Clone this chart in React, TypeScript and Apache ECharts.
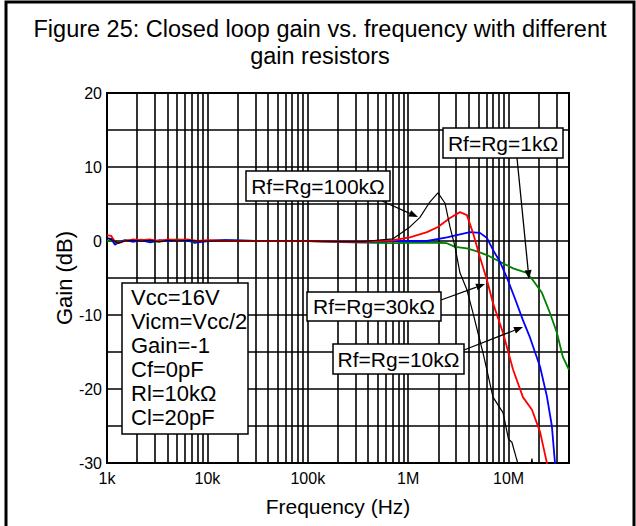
import React, { useEffect, useRef } from 'react';
import * as echarts from 'echarts';

const titleText = 'Figure 25: Closed loop gain vs. frequency with different\ngain resistors';
const xAxisName = 'Frequency (Hz)';
const yAxisName = 'Gain (dB)';

const xTickValues = [1e3, 1e4, 1e5, 1e6, 1e7];
const xTickLabels = ['1k', '10k', '100k', '1M', '10M'];
const gridMultipliers = [2, 3, 4, 5, 6, 7, 8, 9];
const gridDecades = [1e3, 1e4, 1e5, 1e6, 1e7];
const xMin = 1e3;
const xMax = 4e7;
const yMin = -30;
const yMax = 20;

// Rf=Rg=100kΩ (black)
const blackFreq = [1000, 1150, 1300, 1500, 1800, 2200, 2700, 3300, 4000, 5000, 6500, 8000, 10000, 15000, 30000, 100000, 331000, 706000, 1040000, 1310000, 1650000, 1980000, 2330000, 2610000, 2930000, 3280000, 3850000, 4420000, 5560000, 7000000, 8800000, 10000000, 10800000, 12100000, 13000000, 16000000, 17100000, 18000000];
const blackGain = [0.4, 0.1, -0.3, 0.0, 0.1, 0.0, 0.1, -0.1, 0.1, 0.0, 0.1, 0.0, 0.0, 0.0, 0.0, 0.0, -0.1, 0.3, 1.9, 3.2, 5.3, 6.5, 5.1, 1.9, -0.8, -4.3, -6.6, -9.7, -15.1, -21.1, -23.2, -26.8, -27.2, -29.6, -31, -32, -29.4, -32];

// Rf=Rg=30kΩ (red)
const redFreq = [1000, 1100, 1200, 1300, 1500, 1800, 2200, 2700, 3300, 4000, 5000, 6500, 8000, 10000, 15000, 30000, 100000, 331000, 706000, 1040000, 1540000, 1980000, 2610000, 3280000, 3850000, 4420000, 5190000, 6100000, 7000000, 8800000, 11100000, 13900000, 17100000, 20600000, 24100000, 25000000];
const redGain = [0.8, 0.7, -0.1, -0.3, 0.0, 0.2, 0.1, 0.2, 0.0, 0.2, 0.1, 0.2, 0.0, 0.1, 0.0, 0.0, 0.0, -0.1, 0.1, 0.5, 1.2, 1.9, 3.1, 3.9, 3.5, 1.1, -2.2, -5.3, -8.4, -12.4, -17.4, -21.1, -22.8, -25.8, -30, -31.5];

// Rf=Rg=10kΩ (blue)
const blueFreq = [1000, 1100, 1200, 1300, 1500, 1800, 2200, 2700, 3300, 4000, 5000, 6500, 8000, 10000, 15000, 30000, 100000, 331000, 706000, 1540000, 2430000, 3280000, 4130000, 5190000, 6100000, 7000000, 8200000, 9860000, 11600000, 13900000, 16300000, 20600000, 24100000, 27000000, 29000000, 30000000];
const blueGain = [0.4, 0.3, -0.5, -0.2, 0.1, -0.1, 0.1, -0.2, 0.1, 0.0, 0.1, 0.0, -0.2, 0.0, 0.1, 0.0, 0.0, -0.1, 0.0, 0.0, 0.5, 0.9, 1.2, 1.1, 0.4, -1.2, -2.8, -5.3, -7.8, -10.7, -13, -17, -21, -25, -30, -32];

// Rf=Rg=1kΩ (green)
const greenFreq = [1000, 1100, 1200, 1300, 1500, 1800, 2200, 2700, 3300, 4000, 5000, 6500, 7500, 8000, 10000, 15000, 30000, 100000, 331000, 706000, 1540000, 2430000, 2930000, 3850000, 4840000, 6100000, 8200000, 11100000, 15200000, 17500000, 21500000, 25800000, 30300000, 34800000, 40000000];
const greenGain = [0.0, 0.1, -0.2, -0.1, 0.1, 0.0, 0.2, 0.0, -0.1, 0.1, 0.2, 0.1, -0.3, -0.1, 0.0, 0.1, 0.0, 0.0, -0.2, -0.3, -0.2, -0.3, -0.8, -1.0, -1.4, -1.9, -2.8, -3.7, -4.3, -5.3, -7, -9.7, -12.4, -15.7, -17.4];

const conditionsText = ['Vcc=16V', 'Vicm=Vcc/2', 'Gain=-1', 'Cf=0pF', 'Rl=10kΩ', 'Cl=20pF'];
const labelTexts = ['Rf=Rg=100kΩ', 'Rf=Rg=1kΩ', 'Rf=Rg=30kΩ', 'Rf=Rg=10kΩ'];

const FONT = '"Liberation Sans", Arial, Helvetica, sans-serif';

function zip(xs: number[], ys: number[]) {
  return xs.map((x, i) => [x, ys[i]]);
}

function arrow(x1: number, y1: number, x2: number, y2: number) {
  const ang = Math.atan2(y2 - y1, x2 - x1);
  const L = 9;
  const W = 3.5;
  const bx = x2 - L * Math.cos(ang);
  const by = y2 - L * Math.sin(ang);
  const px = -Math.sin(ang) * W;
  const py = Math.cos(ang) * W;
  return [
    { type: 'line', shape: { x1, y1, x2: bx, y2: by }, style: { stroke: '#000', lineWidth: 1.3 }, z: 20 },
    { type: 'polygon', shape: { points: [[x2, y2], [bx + px, by + py], [bx - px, by - py]] }, style: { fill: '#000' }, z: 20 },
  ];
}

function labelBox(x: number, y: number, w: number, h: number, text: string) {
  return [
    { type: 'rect', shape: { x, y, width: w, height: h }, style: { fill: '#fff', stroke: '#000', lineWidth: 1.5 }, z: 21 },
    { type: 'text', x: x + w / 2, y: y + h / 2, style: { text, font: `21px ${FONT}`, fill: '#000', align: 'center', verticalAlign: 'middle' }, z: 22 },
  ];
}

const gridFreqs: number[] = [];
gridDecades.forEach((d) => {
  gridFreqs.push(d);
  gridMultipliers.forEach((m) => {
    if (d * m < xMax) gridFreqs.push(d * m);
  });
});

function xLabel(v: number) {
  for (let i = 0; i < xTickValues.length; i++) {
    if (Math.abs(v - xTickValues[i]) / xTickValues[i] < 1e-6) return xTickLabels[i];
  }
  return '';
}

const dataLine = (name: string, color: string, width: number, data: number[][]) => ({
  name,
  type: 'line',
  data,
  showSymbol: false,
  symbol: 'none',
  smooth: false,
  clip: true,
  z: 5,
  lineStyle: { color, width },
});

const option: any = {
  animation: false,
  backgroundColor: '#fff',
  grid: { left: 107, top: 93, width: 462, height: 370, show: true, borderColor: '#000', borderWidth: 2, backgroundColor: 'transparent' },
  xAxis: {
    type: 'log',
    logBase: 10,
    min: xMin,
    max: xMax,
    name: xAxisName,
    nameLocation: 'middle',
    nameGap: 33,
    nameMoveOverlap: false,
    nameTextStyle: { fontFamily: FONT, fontSize: 21, color: '#000' },
    axisLine: { show: false },
    axisTick: { show: false },
    splitLine: { show: false },
    axisLabel: { formatter: xLabel, fontFamily: FONT, fontSize: 16, color: '#000', margin: 7, showMaxLabel: false },
  },
  yAxis: {
    type: 'value',
    min: yMin,
    max: yMax,
    interval: 5,
    name: yAxisName,
    nameLocation: 'middle',
    nameGap: 32,
    nameMoveOverlap: false,
    nameTextStyle: { fontFamily: FONT, fontSize: 22, color: '#000' },
    axisLine: { show: false },
    axisTick: { show: false },
    splitLine: { show: true, lineStyle: { color: '#000', width: 1.6 } },
    axisLabel: { formatter: (v: number) => (v % 10 === 0 ? String(v) : ''), fontFamily: FONT, fontSize: 16, color: '#000', margin: 5 },
  },
  series: [
    {
      name: 'grid',
      type: 'line',
      data: [],
      z: 1,
      silent: true,
      markLine: {
        z: 1,
        silent: true,
        symbol: ['none', 'none'],
        label: { show: false },
        lineStyle: { color: '#000', width: 1.6, type: 'solid' },
        emphasis: { disabled: true },
        data: gridFreqs.map((f) => ({ xAxis: f })),
      },
    },
    dataLine('Rf=Rg=1kΩ', '#008000', 1.8, zip(greenFreq, greenGain)),
    dataLine('Rf=Rg=10kΩ', '#0000ff', 1.8, zip(blueFreq, blueGain)),
    dataLine('Rf=Rg=30kΩ', '#ff0000', 1.8, zip(redFreq, redGain)),
    dataLine('Rf=Rg=100kΩ', '#000000', 1.2, zip(blackFreq, blackGain)),
  ],
  graphic: [
    { type: 'rect', shape: { x: 6, y: 2, width: 628, height: 560 }, style: { fill: 'none', stroke: '#000', lineWidth: 3 }, z: 30, silent: true },
    { type: 'text', x: 320, y: 15, style: { text: titleText, font: `23.5px ${FONT}`, lineHeight: 27, fill: '#000', align: 'center', verticalAlign: 'top' }, z: 22 },
    { type: 'rect', shape: { x: 122, y: 283, width: 126, height: 151 }, style: { fill: '#fff', stroke: '#000', lineWidth: 1.5 }, z: 21 },
    { type: 'text', x: 131, y: 285, style: { text: conditionsText.join('\n'), font: `22px ${FONT}`, lineHeight: 24, fill: '#000', align: 'left', verticalAlign: 'top' }, z: 22 },
    ...arrow(382, 201, 418, 217),
    ...labelBox(246, 171, 144, 30, labelTexts[0]),
    ...arrow(517, 158, 529, 279),
    ...labelBox(443, 128, 120, 30, labelTexts[1]),
    ...arrow(441, 300, 485, 284),
    ...labelBox(307, 292, 134, 29, labelTexts[2]),
    ...arrow(464, 350, 523, 327),
    ...labelBox(333, 344, 131, 30, labelTexts[3]),
  ],
};

export default function App() {
  const ref = useRef<HTMLDivElement>(null);
  useEffect(() => {
    document.body.style.margin = '0';
    const chart = echarts.init(ref.current!, null, { renderer: 'svg' });
    chart.setOption(option);
    return () => chart.dispose();
  }, []);
  return <div ref={ref} style={{ width: 636, height: 526 }} />;
}
